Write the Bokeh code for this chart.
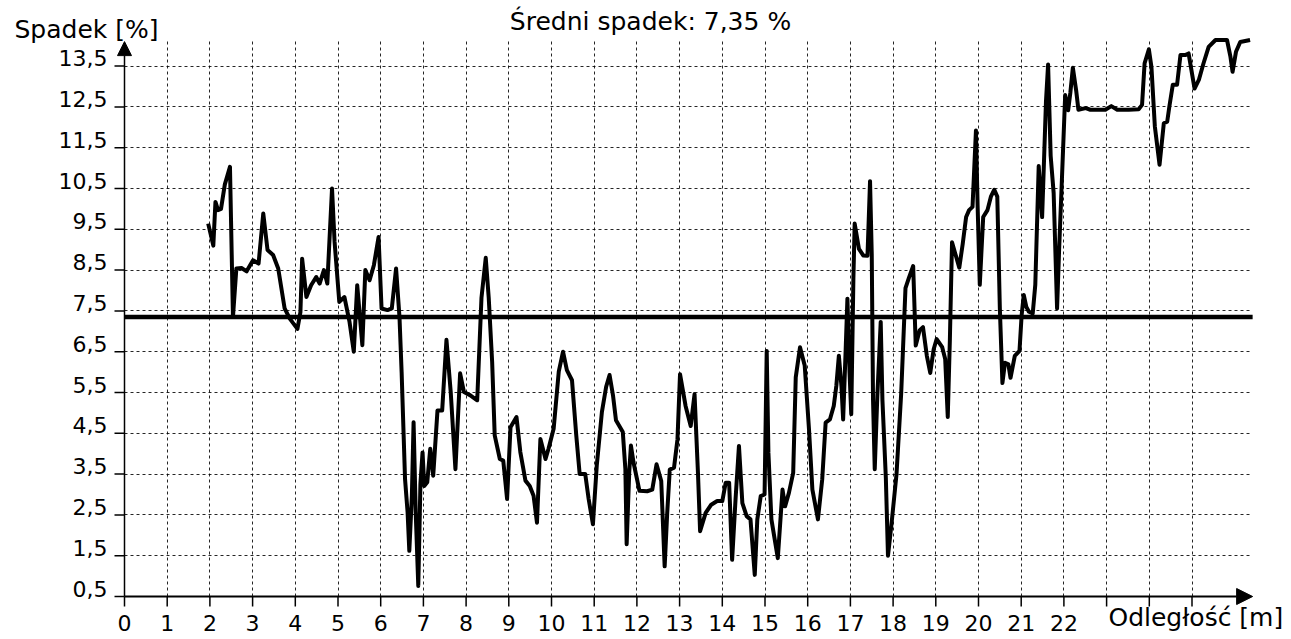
import math
from bokeh.plotting import figure
from bokeh.models import (FixedTicker, Label, ColumnDataSource, Arrow, NormalHead,
                          Range1d, Grid)
from bokeh.embed import file_html
from bokeh.resources import INLINE
from bokeh.core.properties import value

# ---------------- data ----------------
distance = [
    1.96, 2.08, 2.13, 2.19, 2.26, 2.35, 2.47, 2.54, 2.62, 2.74, 2.86, 3.01, 3.14, 3.25,
    3.35, 3.48, 3.60, 3.75, 3.87, 4.05, 4.12, 4.16, 4.26, 4.37, 4.49, 4.57, 4.67, 4.75,
    4.86, 4.92, 5.03, 5.15, 5.27, 5.37, 5.45, 5.53, 5.57, 5.64, 5.74, 5.84, 5.95, 6.02,
    6.16, 6.26, 6.36, 6.44, 6.49, 6.57, 6.63, 6.67, 6.73, 6.77, 6.82, 6.88, 6.93, 6.98,
    7.02, 7.09, 7.16, 7.23, 7.33, 7.44, 7.54, 7.64, 7.75, 7.86, 7.95, 8.10, 8.26, 8.36,
    8.46, 8.53, 8.61, 8.67, 8.79, 8.87, 8.96, 9.04, 9.18, 9.27, 9.39, 9.49, 9.58, 9.66,
    9.74, 9.86, 9.93, 10.05, 10.17, 10.27, 10.36, 10.48, 10.58, 10.66, 10.79, 10.87,
    10.97, 11.06, 11.18, 11.28, 11.36, 11.44, 11.51, 11.67, 11.73, 11.76, 11.82, 11.86,
    11.92, 12.06, 12.24, 12.36, 12.46, 12.57, 12.65, 12.71, 12.77, 12.87, 12.95, 13.01,
    13.14, 13.26, 13.35, 13.43, 13.48, 13.61, 13.74, 13.88, 14.00, 14.08, 14.16, 14.23,
    14.31, 14.39, 14.47, 14.57, 14.66, 14.76, 14.82, 14.90, 14.99, 15.04, 15.08, 15.15,
    15.30, 15.41, 15.47, 15.56, 15.66, 15.72, 15.82, 15.93, 16.03, 16.11, 16.24, 16.34,
    16.42, 16.52, 16.61, 16.67, 16.73, 16.79, 16.83, 16.89, 16.93, 16.98, 17.02, 17.07,
    17.10, 17.20, 17.30, 17.40, 17.46, 17.50, 17.53, 17.57, 17.63, 17.71, 17.75, 17.83,
    17.88, 17.96, 18.08, 18.19, 18.29, 18.37, 18.47, 18.53, 18.62, 18.70, 18.79, 18.87,
    18.95, 19.02, 19.15, 19.22, 19.28, 19.33, 19.38, 19.46, 19.55, 19.63, 19.71, 19.78,
    19.86, 19.94, 19.98, 20.03, 20.11, 20.21, 20.29, 20.37, 20.44, 20.50, 20.56, 20.62,
    20.70, 20.75, 20.85, 20.96, 21.01, 21.06, 21.12, 21.18, 21.27, 21.33, 21.41, 21.49,
    21.53, 21.58, 21.63, 21.69, 21.76, 21.84, 21.89, 21.95, 22.03, 22.10, 22.15, 22.21,
    22.29, 22.34, 22.51, 22.62, 22.82, 22.97, 23.11, 23.25, 23.52, 23.75, 23.83, 23.89,
    23.99, 24.05, 24.13, 24.24, 24.34, 24.42, 24.47, 24.55, 24.65, 24.73, 24.84, 24.92,
    25.06, 25.16, 25.27, 25.39, 25.55, 25.82, 25.90, 25.95, 26.03, 26.13, 26.36,
]
slope = [
    9.64, 9.10, 10.17, 9.97, 10.00, 10.60, 11.03, 7.35, 8.54, 8.55, 8.47, 8.74, 8.66, 9.89,
    8.99, 8.87, 8.54, 7.56, 7.31, 7.06, 7.47, 8.78, 7.84, 8.13, 8.33, 8.17, 8.50, 8.17,
    10.50, 9.19, 7.72, 7.84, 7.23, 6.50, 8.13, 7.15, 6.66, 8.50, 8.25, 8.62, 9.31, 7.56,
    7.52, 7.56, 8.54, 7.35, 6.00, 3.38, 2.56, 1.62, 2.97, 4.77, 2.56, 0.76, 3.26, 4.03,
    3.21, 3.30, 4.12, 3.46, 5.06, 5.06, 6.79, 5.51, 3.62, 5.97, 5.51, 5.43, 5.31, 7.82,
    8.80, 7.82, 6.25, 4.45, 3.87, 3.83, 2.89, 4.65, 4.90, 4.04, 3.34, 3.21, 2.97, 2.31,
    4.36, 3.87, 4.12, 4.61, 6.01, 6.50, 6.05, 5.80, 4.45, 3.50, 3.50, 2.89,
    2.27, 3.71, 5.02, 5.64, 5.93, 5.43, 4.82, 4.53, 3.62, 1.78, 3.54, 4.20,
    3.79, 3.09, 3.08, 3.12, 3.74, 3.33, 1.24, 2.55, 3.61, 3.66, 4.35, 5.95,
    5.17, 4.68, 5.46, 3.53, 2.10, 2.55, 2.75, 2.84, 2.84, 3.29, 3.29, 1.40,
    2.88, 4.19, 2.79, 2.47, 2.39, 1.03, 2.39, 2.96, 3.00, 6.52, 4.02, 2.39,
    1.44, 3.12, 2.71, 3.04, 3.53, 5.87, 6.61, 6.16, 4.60, 3.12, 2.39, 3.37,
    4.76, 4.84, 5.17, 5.66, 6.40, 5.66, 4.84, 6.57, 7.80, 5.99, 4.97, 8.29,
    9.64, 9.02, 8.86, 8.85, 10.68, 8.89, 5.32, 3.62, 5.40, 7.23, 5.32, 3.41,
    1.50, 2.25, 3.50, 5.49, 8.06, 8.31, 8.60, 6.65, 7.02, 7.10, 6.40, 5.98,
    6.56, 6.81, 6.61, 6.32, 4.90, 6.81, 9.18, 8.89, 8.56, 9.14, 9.80, 9.97,
    10.05, 11.92, 10.05, 8.14, 9.80, 9.97, 10.30, 10.47, 10.30, 7.56, 5.73, 6.23,
    6.19, 5.86, 6.40, 6.52, 7.39, 7.89, 7.60, 7.48, 7.44, 8.14, 11.05, 9.80,
    11.05, 12.63, 13.54, 11.30, 10.39, 7.56, 9.06, 10.63, 12.79, 12.42, 12.84, 13.46,
    12.88, 12.43, 12.47, 12.43, 12.43, 12.43, 12.52, 12.43, 12.43, 12.44, 12.55, 13.57,
    13.91, 13.48, 12.02, 11.08, 12.10, 12.14, 12.51, 13.04, 13.04, 13.77, 13.77, 13.81,
    12.95, 13.16, 13.57, 13.97, 14.14, 14.14, 13.73, 13.36, 13.85, 14.09, 14.14,
]
mean_slope = 7.35

x_ticks = list(range(0, 26))
x_tick_labels = ["0", "1", "2", "3", "4", "5", "6", "7", "8", "9", "10", "11", "12",
                 "13", "14", "15", "16", "17", "18", "19", "20", "21", "22", "", "", ""]
y_ticks = [0.5, 1.5, 2.5, 3.5, 4.5, 5.5, 6.5, 7.5, 8.5, 9.5, 10.5, 11.5, 12.5, 13.5]
y_tick_labels = ["0,5", "1,5", "2,5", "3,5", "4,5", "5,5", "6,5", "7,5", "8,5", "9,5",
                 "10,5", "11,5", "12,5", "13,5"]

title_text = "Średni spadek: 7,35 %"
y_title = "Spadek [%]"
x_title = "Odległość [m]"

# ---------------- layout constants ----------------
FONT = "DejaVu Sans"
W, H = 1291, 639
X0_PX, X_SCALE = 124.0, 42.7          # pixel of x=0, pixels per metre
Y0_PX, Y_SCALE = 596.0, 40.8          # pixel of y=0.5 (axis), pixels per percent
X_END = 26.42                         # end of x axis (arrow tip)
Y_END = 14.1                          # end of y axis (arrow tip)
GRID_TOP = 14.15

y_base = y_ticks[0]
x_range = Range1d(-X0_PX / X_SCALE, (W - X0_PX) / X_SCALE)
y_range = Range1d(y_base - (H - Y0_PX) / Y_SCALE, y_base + Y0_PX / Y_SCALE)


def px_x(px):
    return (px - X0_PX) / X_SCALE


def px_y(py):
    return y_base + (Y0_PX - py) / Y_SCALE


p = figure(width=W, height=H, output_backend="svg", toolbar_location=None,
           x_range=x_range, y_range=y_range, x_axis_type=None, y_axis_type=None,
           min_border=0)
p.outline_line_color = None
p.background_fill_color = "white"
p.border_fill_color = "white"

# dotted grid, limited to the chart area
p.add_layout(Grid(dimension=0, ticker=FixedTicker(ticks=x_ticks[1:]),
                  cross_bounds=(y_base, GRID_TOP), grid_line_color="black",
                  grid_line_dash="3 3", grid_line_width=1, grid_line_alpha=0.85))
p.add_layout(Grid(dimension=1, ticker=FixedTicker(ticks=y_ticks[1:]),
                  cross_bounds=(x_ticks[0], X_END), grid_line_color="black",
                  grid_line_dash="3 3", grid_line_width=1, grid_line_alpha=0.85))

# axes with arrow heads
p.add_layout(Arrow(end=NormalHead(size=14, fill_color="black", line_color="black"),
                   x_start=x_ticks[0], y_start=y_base, x_end=x_ticks[0], y_end=Y_END,
                   line_width=1.5, line_color="black"))
p.add_layout(Arrow(end=NormalHead(size=16, fill_color="black", line_color="black"),
                   x_start=x_ticks[0], y_start=y_base, x_end=X_END, y_end=y_base,
                   line_width=2, line_color="black"))

# tick marks
p.ray(x=x_ticks, y=[y_base] * len(x_ticks), length=10, length_units="screen",
      angle=-math.pi / 2, line_color="black", line_width=1.5)
p.ray(x=[x_ticks[0]] * len(y_ticks), y=y_ticks, length=10, length_units="screen",
      angle=math.pi, line_color="black", line_width=1.5)

# tick labels
xsrc = ColumnDataSource(data=dict(x=x_ticks, y=[y_base] * len(x_ticks), t=x_tick_labels))
p.text(x="x", y="y", text="t", source=xsrc, text_align="center",
       text_baseline="middle", y_offset=26, text_font=value(FONT),
       text_font_size="22px", text_color="black")
ysrc = ColumnDataSource(data=dict(x=[x_ticks[0]] * len(y_ticks), y=y_ticks, t=y_tick_labels))
p.text(x="x", y="y", text="t", source=ysrc, text_align="right",
       text_baseline="middle", x_offset=-17, y_offset=-8, text_font=value(FONT),
       text_font_size="22px", text_color="black")

# mean line and data
p.line([x_ticks[0], X_END], [mean_slope, mean_slope], line_width=4.5, line_color="black")
p.line(distance, slope, line_width=4, line_color="black", line_join="round")

# texts
p.add_layout(Label(x=px_x(650), y=px_y(21), text=title_text, text_align="center",
                   text_baseline="middle", text_font=FONT, text_font_size="25px",
                   text_color="black"))
p.add_layout(Label(x=px_x(14), y=px_y(29), text=y_title, text_align="left",
                   text_baseline="middle", text_font=FONT, text_font_size="25px",
                   text_color="black"))
p.add_layout(Label(x=px_x(1108), y=px_y(617), text=x_title, text_align="left",
                   text_baseline="middle", text_font=FONT, text_font_size="25px",
                   text_color="black"))

open("out.html", "w").write(file_html(p, INLINE))
